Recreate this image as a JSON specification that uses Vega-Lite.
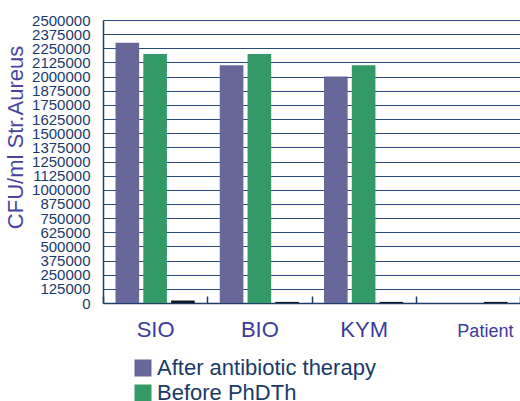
{
  "$schema": "https://vega.github.io/schema/vega-lite/v6.json",
  "width": 417,
  "height": 283,
  "autosize": "none",
  "padding": {"left": 103, "top": 20, "right": 0, "bottom": 98},
  "config": {"view": {"stroke": null}, "font": "Liberation Sans"},
  "data": {
    "values": [
      {"group": "SIO", "series": "After antibiotic therapy", "cfu": 2300000},
      {"group": "SIO", "series": "Before PhDTh", "cfu": 2200000},
      {"group": "SIO", "series": "After PhDTh", "cfu": 22000},
      {"group": "BIO", "series": "After antibiotic therapy", "cfu": 2100000},
      {"group": "BIO", "series": "Before PhDTh", "cfu": 2200000},
      {"group": "BIO", "series": "After PhDTh", "cfu": 10000},
      {"group": "KYM", "series": "After antibiotic therapy", "cfu": 2000000},
      {"group": "KYM", "series": "Before PhDTh", "cfu": 2100000},
      {"group": "KYM", "series": "After PhDTh", "cfu": 10000},
      {"group": "Patient", "series": "After antibiotic therapy", "cfu": 0},
      {"group": "Patient", "series": "Before PhDTh", "cfu": 0},
      {"group": "Patient", "series": "After PhDTh", "cfu": 10000}
    ]
  },
  "mark": {"type": "bar"},
  "encoding": {
    "x": {
      "field": "group",
      "type": "nominal",
      "sort": ["SIO", "BIO", "KYM", "Patient"],
      "scale": {"paddingInner": 0, "paddingOuter": 0},
      "axis": {
        "title": null,
        "labelAngle": 0,
        "labelFontSize": {"condition": {"test": "datum.value == 'Patient'", "value": 18}, "value": 22},
        "labelOffset": {"condition": {"test": "datum.value == 'Patient'", "value": 17}, "value": 0},
        "labelColor": "#3c3c9c",
        "labelBaseline": "alphabetic",
        "labelPadding": 40,
        "domainColor": "#1f3d6b",
        "domainWidth": 1.5,
        "tickBand": "extent",
        "tickSize": -7,
        "tickColor": "#1f3d6b",
        "tickWidth": 1.5
      }
    },
    "xOffset": {
      "field": "series",
      "sort": ["After antibiotic therapy", "Before PhDTh", "After PhDTh"],
      "scale": {"paddingInner": 0.15, "paddingOuter": 0.45}
    },
    "y": {
      "field": "cfu",
      "type": "quantitative",
      "scale": {"domain": [0, 2500000], "nice": false},
      "axis": {
        "title": "CFU/ml Str.Aureus",
        "titleFontSize": 22,
        "titleFontWeight": "normal",
        "titleColor": "#4a44a0",
        "titleX": -76,
        "titleY": 117,
        "values": [0, 125000, 250000, 375000, 500000, 625000, 750000, 875000, 1000000, 1125000, 1250000, 1375000, 1500000, 1625000, 1750000, 1875000, 2000000, 2125000, 2250000, 2375000, 2500000],
        "labelOverlap": false,
        "labelFontSize": 15,
        "labelColor": "#1a3a6a",
        "labelPadding": 13,
        "ticks": false,
        "format": "d",
        "domainColor": "#1f3d6b",
        "domainWidth": 1.5,
        "grid": true,
        "gridColor": "#2a4a7a",
        "gridWidth": 1.2,
        "gridOpacity": 1
      }
    },
    "color": {
      "field": "series",
      "type": "nominal",
      "scale": {
        "domain": ["After antibiotic therapy", "Before PhDTh", "After PhDTh"],
        "range": ["#676799", "#339966", "#0f1a26"]
      },
      "legend": {
        "title": null,
        "values": ["After antibiotic therapy", "Before PhDTh"],
        "orient": "none",
        "legendX": 29,
        "legendY": 337,
        "padding": 0,
        "symbolType": "square",
        "symbolSize": 289,
        "symbolStrokeWidth": 0,
        "labelFontSize": 22,
        "labelColor": "#1a3a6a",
        "labelOffset": 3,
        "rowPadding": 3,
        "labelLimit": 400
      }
    }
  }
}
